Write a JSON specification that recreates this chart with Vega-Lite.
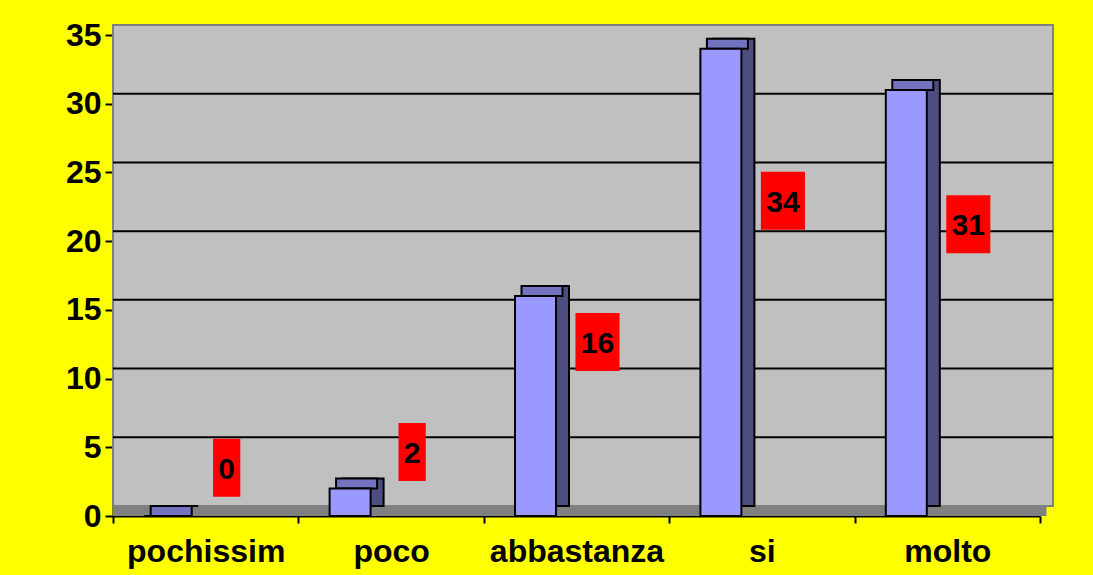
{
  "$schema": "https://vega.github.io/schema/vega-lite/v6.json",
  "width": 927,
  "height": 481,
  "autosize": {"type": "none"},
  "padding": {"left": 113, "top": 35, "right": 53, "bottom": 59},
  "background": "#FFFF00",
  "config": {
    "view": {"fill": "#C0C0C0", "stroke": null},
    "font": "Liberation Sans"
  },
  "datasets": {
    "answers": [
      {"cat": "pochissim", "value": 0},
      {"cat": "poco", "value": 2},
      {"cat": "abbastanza", "value": 16},
      {"cat": "si", "value": 34},
      {"cat": "molto", "value": 31}
    ],
    "grid": [{"g": 5}, {"g": 10}, {"g": 15}, {"g": 20}, {"g": 25}, {"g": 30}]
  },
  "data": {"name": "answers"},
  "resolve": {"scale": {"y": "independent"}},
  "layer": [
    {
      "layer": [
        {
          "data": {"values": [{}]},
          "mark": {"type": "rect", "fill": "#C0C0C0", "stroke": "#808080", "strokeWidth": 2, "xOffset": 13, "x2Offset": 13, "yOffset": -10, "y2Offset": -10},
          "encoding": {
            "y": {"datum": 0, "type": "quantitative", "scale": {"domain": [0, 35], "nice": false},
              "axis": {"values": [0, 5, 10, 15, 20, 25, 30, 35], "title": null, "grid": false, "domainColor": "black", "domainWidth": 2, "tickColor": "black", "tickWidth": 2, "tickSize": 8, "labelFont": "Liberation Sans", "labelFontSize": 32, "labelFontWeight": "bold", "labelColor": "black", "labelPadding": 4}},
            "y2": {"datum": 35}
          }
        },
        {
          "data": {"values": [{}]},
          "mark": {"type": "rect", "fill": "#808080", "xOffset": 6.5, "x2Offset": 6.5, "yOffset": -11},
          "encoding": {
            "y": {"datum": 0, "type": "quantitative"},
            "y2": {"datum": 0}
          }
        },
        {
          "data": {"name": "grid"},
          "mark": {"type": "rule", "color": "black", "strokeWidth": 2, "xOffset": 13, "x2Offset": 13, "yOffset": -10},
          "encoding": {
            "y": {"field": "g", "type": "quantitative"}
          }
        },
        {
          "mark": {"type": "bar", "width": 41, "xOffset": -28, "yOffset": -10, "y2Offset": -10, "fill": "#4D4D80", "stroke": "black", "strokeWidth": 2},
          "encoding": {
            "x": {"field": "cat", "type": "nominal", "sort": ["pochissim", "poco", "abbastanza", "si", "molto"], "scale": {"paddingInner": 0, "paddingOuter": 0},
              "axis": {"title": null, "grid": false, "tickBand": "extent", "tickSize": 7, "tickColor": "black", "tickWidth": 2, "domainColor": "black", "domainWidth": 2, "labelFont": "Liberation Sans", "labelFontSize": 32, "labelFontWeight": "bold", "labelColor": "black", "labelAngle": 0, "labelPadding": 13}},
            "y": {"field": "value", "type": "quantitative"}
          }
        },
        {
          "mark": {"type": "bar", "width": 41, "xOffset": -34.5, "yOffset": -10, "fill": "#7373BF", "stroke": "black", "strokeWidth": 2},
          "encoding": {
            "x": {"field": "cat", "type": "nominal", "sort": ["pochissim", "poco", "abbastanza", "si", "molto"]},
            "y": {"field": "value", "type": "quantitative"},
            "y2": {"field": "value"}
          }
        },
        {
          "mark": {"type": "bar", "width": 41, "xOffset": -41, "fill": "#9999FF", "stroke": "black", "strokeWidth": 2},
          "encoding": {
            "x": {"field": "cat", "type": "nominal", "sort": ["pochissim", "poco", "abbastanza", "si", "molto"]},
            "y": {"field": "value", "type": "quantitative"}
          }
        }
      ]
    },
    {
      "layer": [
        {
          "transform": [{"filter": "datum.value < 10"}],
          "mark": {"type": "point", "filled": true, "fill": "#FF0000", "opacity": 1, "strokeWidth": 0, "size": 3364, "shape": "M-0.47,-1L0.47,-1L0.47,1L-0.47,1Z", "xOffset": 21},
          "encoding": {
            "x": {"field": "cat", "type": "nominal", "sort": ["pochissim", "poco", "abbastanza", "si", "molto"]},
            "y": {"field": "value", "type": "quantitative", "scale": {"domain": [-6.15, 55.1], "nice": false, "zero": false}, "axis": null}
          }
        },
        {
          "transform": [{"filter": "datum.value >= 10"}],
          "mark": {"type": "point", "filled": true, "fill": "#FF0000", "opacity": 1, "strokeWidth": 0, "size": 3364, "shape": "M-0.76,-1L0.76,-1L0.76,1L-0.76,1Z", "xOffset": 21},
          "encoding": {
            "x": {"field": "cat", "type": "nominal", "sort": ["pochissim", "poco", "abbastanza", "si", "molto"]},
            "y": {"field": "value", "type": "quantitative", "axis": null}
          }
        },
        {
          "mark": {"type": "text", "font": "Liberation Sans", "fontSize": 30, "fontWeight": "bold", "color": "black", "align": "center", "baseline": "middle", "dy": 2, "xOffset": 21},
          "encoding": {
            "x": {"field": "cat", "type": "nominal", "sort": ["pochissim", "poco", "abbastanza", "si", "molto"]},
            "y": {"field": "value", "type": "quantitative", "axis": null},
            "text": {"field": "value", "type": "quantitative"}
          }
        }
      ]
    }
  ]
}
